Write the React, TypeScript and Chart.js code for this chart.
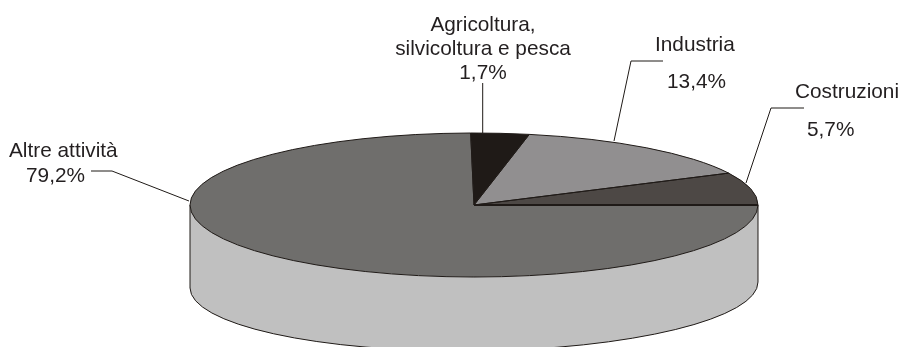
import React, { useEffect, useRef } from "react";
import { Chart, registerables } from "chart.js";

Chart.register(...registerables);

const categories = ["Agricoltura, silvicoltura e pesca", "Industria", "Costruzioni", "Altre attività"];
const shares = [1.7, 13.4, 5.7, 79.2];
const sliceColours = ["#1f1a17", "#918f90", "#4d4845", "#6f6e6c"];

const INK = "#1f1a17";
const WALL = "#c0c0c0";
const FONT = '20.8px "Liberation Sans", Arial, sans-serif';

// The printed shares stay the chart's data. The reference's 3D projection draws
// the slices at different angular widths, so this style factor reproduces it.
const projectionStretch = [1.944, 1.088, 1.282, 0.9445];
const ROTATION_DEG = -0.67;
const SQUASH = 72 / 284;

const pct = (v: number) => `${v.toString().replace(".", ",")}%`;

type LabelLine = { text: string; x: number; y: number; align?: CanvasTextAlign };
const labelLayout = (): LabelLine[] => [
  { text: "Agricoltura,", x: 483, y: 31, align: "center" },
  { text: "silvicoltura e pesca", x: 483, y: 55, align: "center" },
  { text: pct(shares[0]), x: 483, y: 79, align: "center" },
  { text: categories[1], x: 655, y: 51 },
  { text: pct(shares[1]), x: 667, y: 88 },
  { text: categories[2], x: 795, y: 98 },
  { text: pct(shares[2]), x: 807, y: 136 },
  { text: categories[3], x: 9, y: 157 },
  { text: pct(shares[3]), x: 26, y: 182 },
];

const leaders: number[][][] = [
  [[482.7, 83], [482.7, 133]],
  [[663, 61], [631, 61], [614, 141]],
  [[804, 108], [771, 108], [746, 183]],
  [[91, 171], [112, 171], [189, 201]],
];

const pie3d = {
  id: "pie3d",
  afterDatasetsUpdate(chart: any) {
    const arcs = chart.getDatasetMeta(0).data;
    const total = arcs.reduce((s: number, a: any, i: number) => s + a.circumference * projectionStretch[i], 0);
    let angle = -Math.PI / 2 + (ROTATION_DEG * Math.PI) / 180;
    arcs.forEach((a: any, i: number) => {
      const width = ((a.circumference * projectionStretch[i]) / total) * Math.PI * 2;
      a.startAngle = angle;
      a.endAngle = angle + width;
      a.circumference = width;
      angle += width;
    });
  },
  beforeDatasetsDraw(chart: any) {
    const ctx = chart.ctx;
    const arc = chart.getDatasetMeta(0).data[0];
    const { x, y, outerRadius: r } = arc;
    const ry = r * SQUASH;
    // side wall of the disc
    ctx.save();
    ctx.beginPath();
    ctx.moveTo(x - r, y);
    ctx.lineTo(x - r, y + 83);
    ctx.ellipse(x, y + 80, r, 66, -0.0105, Math.PI, 0, true);
    ctx.lineTo(x + r, y);
    ctx.ellipse(x, y, r, ry, 0, 0, Math.PI, false);
    ctx.closePath();
    ctx.fillStyle = WALL;
    ctx.fill();
    ctx.strokeStyle = INK;
    ctx.lineWidth = 1;
    ctx.beginPath();
    ctx.moveTo(x - r, y);
    ctx.lineTo(x - r, y + 83);
    ctx.ellipse(x, y + 80, r, 66, -0.0105, Math.PI, 0, true);
    ctx.lineTo(x + r, y);
    ctx.stroke();
    ctx.restore();
    // squash the library's circular pie into the disc's top face
    ctx.save();
    ctx.translate(x, y);
    ctx.scale(1, SQUASH);
    ctx.translate(-x, -y);
  },
  afterDatasetsDraw(chart: any) {
    const ctx = chart.ctx;
    ctx.restore();
    const arcs = chart.getDatasetMeta(0).data;
    const { x, y, outerRadius: r } = arcs[0];
    const ry = r * SQUASH;
    ctx.save();
    ctx.strokeStyle = INK;
    ctx.lineWidth = 1;
    arcs.forEach((a: any) => {
      ctx.beginPath();
      ctx.moveTo(x, y);
      ctx.ellipse(x, y, r, ry, 0, a.startAngle, a.endAngle, false);
      ctx.closePath();
      ctx.stroke();
    });
    // the heavier edge between Costruzioni and Altre attività
    ctx.lineWidth = 2;
    ctx.beginPath();
    ctx.moveTo(x, y);
    ctx.lineTo(x + r, y);
    ctx.stroke();
    // leader lines
    ctx.lineWidth = 1;
    leaders.forEach((pts) => {
      ctx.beginPath();
      pts.forEach(([px, py], i) => (i ? ctx.lineTo(px, py) : ctx.moveTo(px, py)));
      ctx.stroke();
    });
    // labels
    ctx.fillStyle = "#231f20";
    ctx.font = FONT;
    ctx.textBaseline = "alphabetic";
    labelLayout().forEach((l) => {
      ctx.textAlign = l.align ?? "left";
      ctx.fillText(l.text, l.x, l.y);
    });
    ctx.restore();
  },
};

export default function App() {
  const ref = useRef<HTMLCanvasElement>(null);
  useEffect(() => {
    const chart = new Chart(ref.current!, {
      type: "pie",
      data: {
        labels: categories,
        datasets: [
          {
            data: shares,
            backgroundColor: sliceColours,
            borderWidth: 0,
            clip: false,
          } as any,
        ],
      },
      options: {
        responsive: false,
        animation: false,
        radius: 284,
        rotation: ROTATION_DEG,
        layout: { padding: { left: 45, right: 0, top: 63, bottom: 0 } },
        plugins: { legend: { display: false }, tooltip: { enabled: false }, title: { display: false } },
      } as any,
      plugins: [pie3d],
    });
    return () => chart.destroy();
  }, []);
  return (
    <canvas
      ref={ref}
      width={903}
      height={347}
      style={{ position: "absolute", left: 0, top: 0, display: "block", width: 903, height: 347 }}
    />
  );
}
